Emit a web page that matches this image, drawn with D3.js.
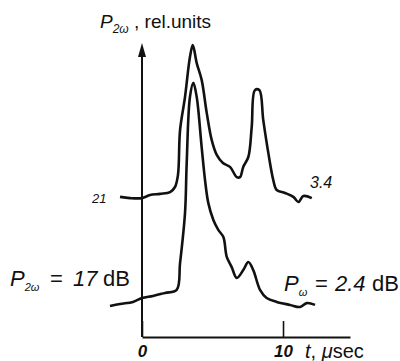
<!DOCTYPE html>
<html>
<head>
<meta charset="utf-8">
<script src="https://cdn.jsdelivr.net/npm/d3@7"></script>
<style>
  body { margin: 0; background: #fff; }
  svg { display: block; }
  text { font-family: "Liberation Sans", Arial, sans-serif; fill: #111; }
</style>
</head>
<body>
<div id="chart"></div>
<script>
var width = 400, height = 361;

// time in microseconds, power in relative units
var upperT = [-1.56, -0.85, 0, 0.57, 1.28, 1.99, 2.34, 2.55, 2.7, 3.05, 3.4, 3.6, 3.88, 4.23, 4.59, 4.94, 5.3, 5.74, 6.24, 6.72, 6.95, 7.18, 7.54, 7.78, 8.01, 8.32, 8.6, 8.96, 9.31, 9.55, 10.14, 10.73, 11.09, 11.44, 12.04];
var upperP = [46.7, 46.3, 46.3, 47.3, 47.7, 48.3, 50, 54, 69, 80, 93.3, 97.3, 91.3, 85.7, 74.7, 65.7, 60.7, 58, 56.7, 53.3, 53.3, 56.7, 60, 70, 82.3, 82.3, 72.3, 61.3, 52.3, 49, 48, 46.7, 45, 47, 46.3];

var lowerT = [-2.27, -1.56, -0.64, 0, 0.78, 1.63, 2.46, 2.7, 3.05, 3.17, 3.4, 3.64, 3.88, 4.23, 4.47, 4.7, 5.06, 5.41, 5.77, 6.01, 6.36, 6.72, 7.18, 7.54, 7.89, 8.37, 8.84, 9.55, 10.5, 11.21, 11.68, 12.27];
var lowerP = [10.3, 11, 11.7, 13, 13.7, 14.7, 15.7, 24.7, 41.3, 58, 80, 84.7, 80, 63.3, 52.3, 44.7, 39, 35.7, 33.3, 26.7, 23.3, 19.7, 22.3, 25, 22.3, 15.7, 13, 11.7, 10.7, 10, 11.3, 10.7];

var xTicks = [0, 10];
var xTickLabels = ['0', '10'];

var x = d3.scaleLinear().domain([0, 14.75]).range([142, 350]);
var y = d3.scaleLinear().domain([0, 100]).range([337, 37]);

var svg = d3.select('#chart').append('svg')
  .attr('width', width)
  .attr('height', height);

// horizontal axis with the single inward tick at 10
var xAxis = d3.axisBottom(x)
  .tickValues(xTicks)
  .tickFormat(function(d, i) { return xTickLabels[i]; })
  .tickSizeInner(-16)
  .tickSizeOuter(0)
  .tickPadding(8);

var gx = svg.append('g')
  .attr('transform', 'translate(0,' + y(0) + ')')
  .call(xAxis);
gx.select('.domain').attr('stroke', '#111').attr('stroke-width', 2);
gx.selectAll('.tick line').attr('stroke', '#111').attr('stroke-width', 1.6);
gx.selectAll('.tick text')
  .style('font-size', '17px')
  .style('font-style', 'italic')
  .style('font-weight', 'bold')
  .attr('fill', '#111');

// vertical axis with arrow
var axTop = y(98);
svg.append('line')
  .attr('x1', x(0)).attr('x2', x(0))
  .attr('y1', y(0)).attr('y2', axTop + 10)
  .attr('stroke', '#111').attr('stroke-width', 2);
svg.append('path')
  .attr('d', 'M' + x(0) + ',' + axTop + 'l-4,14l8,0z')
  .attr('fill', '#111');

// traces
var line = d3.line()
  .x(function(d) { return x(d[0]); })
  .y(function(d) { return y(d[1]); })
  .curve(d3.curveCatmullRom.alpha(0.5));

svg.append('path')
  .datum(d3.zip(upperT, upperP))
  .attr('d', line)
  .attr('fill', 'none')
  .attr('stroke', '#111')
  .attr('stroke-width', 2.6)
  .attr('stroke-linejoin', 'round');

svg.append('path')
  .datum(d3.zip(lowerT, lowerP))
  .attr('d', line)
  .attr('fill', 'none')
  .attr('stroke', '#111')
  .attr('stroke-width', 2.6)
  .attr('stroke-linejoin', 'round');

// labels
var yl = svg.append('text').attr('x', 100).attr('y', 28).style('font-size', '19px');
yl.append('tspan').text('P').style('font-style', 'italic');
yl.append('tspan').text('2ω').attr('dy', 5).style('font-size', '12px').style('font-style', 'italic');
yl.append('tspan').text(' , rel.units').attr('dy', -5);

var xl = svg.append('text').attr('x', 305).attr('y', 358).style('font-size', '20px');
xl.append('tspan').text('t').style('font-style', 'italic');
xl.append('tspan').text(', ');
xl.append('tspan').text('μ').style('font-style', 'italic');
xl.append('tspan').text('sec');

svg.append('text').attr('x', 92).attr('y', 203)
  .style('font-size', '13px').style('font-style', 'italic')
  .attr('fill', '#777').text('21');

svg.append('text').attr('x', 310).attr('y', 188)
  .style('font-size', '16px').style('font-style', 'italic')
  .attr('fill', '#333').text('3.4');

var l1 = svg.append('text').attr('x', 10).attr('y', 286).style('font-size', '22px');
l1.append('tspan').text('P').style('font-style', 'italic');
l1.append('tspan').text('2ω').attr('dy', 5).style('font-size', '11px').style('font-style', 'italic');
l1.append('tspan').text('=').attr('x', 50).attr('dy', -5);
l1.append('tspan').text('17').attr('x', 73).style('font-style', 'italic');
l1.append('tspan').text('dB').attr('x', 103);

var l2 = svg.append('text').attr('x', 284).attr('y', 291).style('font-size', '22px').attr('fill', '#444');
l2.append('tspan').text('P').style('font-style', 'italic');
l2.append('tspan').text('ω').attr('dy', 5).style('font-size', '11px').style('font-style', 'italic');
l2.append('tspan').text('=').attr('x', 315).attr('dy', -5);
l2.append('tspan').text('2.4').attr('x', 335).style('font-style', 'italic');
l2.append('tspan').text('dB').attr('x', 372).attr('fill', '#111');
</script>
</body>
</html>
